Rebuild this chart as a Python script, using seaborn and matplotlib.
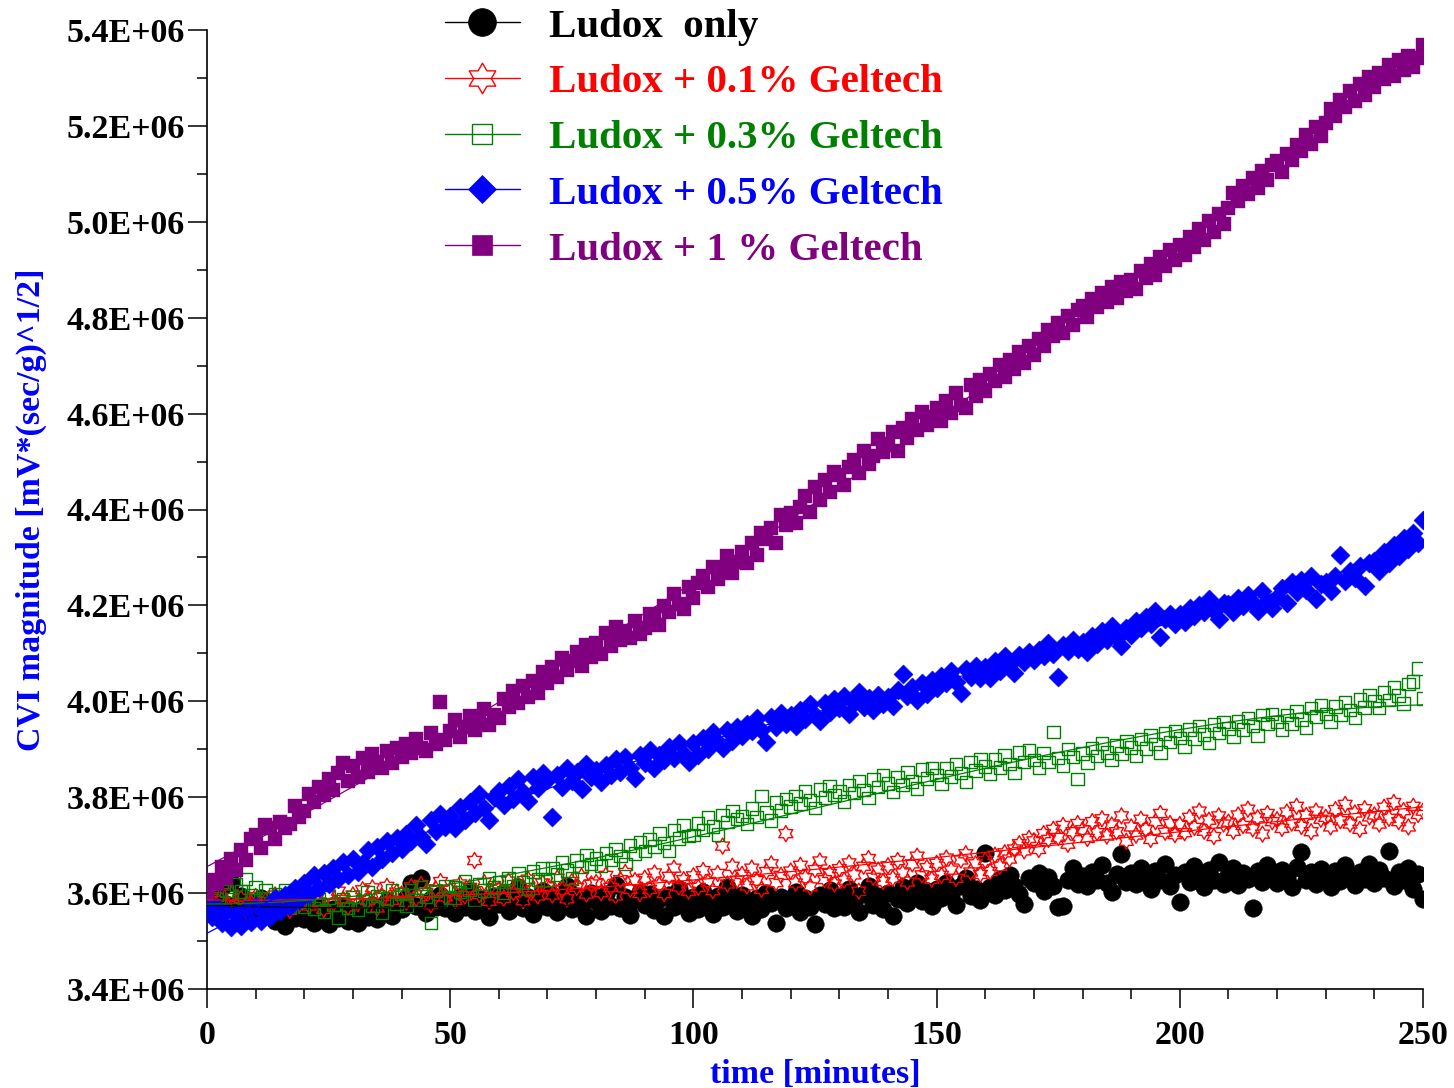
import numpy as np
import pandas as pd
import matplotlib
matplotlib.use("Agg")
import matplotlib.pyplot as plt
import seaborn as sns
from matplotlib.path import Path
from matplotlib.lines import Line2D
from matplotlib.ticker import MultipleLocator, FuncFormatter, FixedLocator

# ---------------- data (values in units of 1E+06) ----------------
ludox_only = [
    3.568, 3.587, 3.559, 3.612, 3.578, 3.624, 3.571, 3.593, 3.548, 3.582,
    3.566, 3.589, 3.552, 3.574, 3.541, 3.567, 3.532, 3.561, 3.548, 3.572,
    3.546, 3.563, 3.538, 3.571, 3.552, 3.535, 3.566, 3.549, 3.573, 3.541,
    3.558, 3.537, 3.569, 3.551, 3.576, 3.545, 3.562, 3.584, 3.553, 3.571,
    3.566, 3.589, 3.621, 3.574, 3.632, 3.559, 3.587, 3.571, 3.596, 3.568,
    3.583, 3.558, 3.592, 3.571, 3.604, 3.562, 3.589, 3.576, 3.551, 3.594,
    3.578, 3.601, 3.563, 3.587, 3.612, 3.569, 3.591, 3.557, 3.584, 3.605,
    3.572, 3.596, 3.561, 3.588, 3.614, 3.566, 3.593, 3.578, 3.552, 3.601,
    3.584, 3.562, 3.598, 3.573, 3.617, 3.569, 3.591, 3.555, 3.586, 3.603,
    3.576, 3.598, 3.564, 3.587, 3.553, 3.595, 3.572, 3.609, 3.581, 3.558,
    3.591, 3.567, 3.603, 3.578, 3.556, 3.594, 3.571, 3.612, 3.583, 3.562,
    3.596, 3.574, 3.552, 3.589, 3.566, 3.601, 3.579, 3.538, 3.591, 3.568,
    3.584, 3.603, 3.561, 3.589, 3.572, 3.536, 3.596, 3.578, 3.607, 3.569,
    3.592, 3.571, 3.608, 3.583, 3.561, 3.598, 3.614, 3.576, 3.593, 3.567,
    3.601, 3.552, 3.588, 3.612, 3.579, 3.596, 3.621, 3.584, 3.605, 3.573,
    3.608, 3.589, 3.622, 3.597, 3.576, 3.614, 3.631, 3.593, 3.609, 3.585,
    3.684, 3.612, 3.596, 3.629, 3.607, 3.637, 3.615, 3.598, 3.578, 3.631,
    3.622, 3.641, 3.605, 3.633, 3.614, 3.572, 3.574, 3.628, 3.652, 3.619,
    3.636, 3.614, 3.645, 3.627, 3.658, 3.621, 3.603, 3.639, 3.681, 3.624,
    3.641, 3.618, 3.653, 3.632, 3.608, 3.646, 3.627, 3.661, 3.615, 3.638,
    3.582, 3.643, 3.624, 3.657, 3.633, 3.612, 3.649, 3.628, 3.665, 3.619,
    3.637, 3.652, 3.616, 3.641, 3.629, 3.569, 3.646, 3.623, 3.658, 3.635,
    3.621, 3.648, 3.632, 3.612, 3.655, 3.686, 3.627, 3.643, 3.619, 3.651,
    3.634, 3.613, 3.647, 3.626, 3.659, 3.638, 3.617, 3.644, 3.629, 3.661,
    3.622, 3.648, 3.631, 3.688, 3.614, 3.645, 3.627, 3.653, 3.608, 3.639,
    3.588,
]
geltech_01 = [
    3.571, 3.592, 3.566, 3.585, 3.559, 3.598, 3.574, 3.589, 3.562, 3.581,
    3.593, 3.568, 3.584, 3.557, 3.596, 3.575, 3.588, 3.564, 3.599, 3.577,
    3.591, 3.573, 3.602, 3.581, 3.566, 3.598, 3.579, 3.604, 3.587, 3.571,
    3.596, 3.578, 3.607, 3.584, 3.611, 3.569, 3.593, 3.614, 3.585, 3.602,
    3.598, 3.581, 3.613, 3.589, 3.618, 3.601, 3.576, 3.609, 3.624, 3.592,
    3.606, 3.585, 3.619, 3.594, 3.612, 3.668, 3.597, 3.622, 3.583, 3.611,
    3.608, 3.589, 3.625, 3.601, 3.617, 3.584, 3.629, 3.606, 3.594, 3.621,
    3.613, 3.596, 3.631, 3.607, 3.588, 3.624, 3.612, 3.635, 3.598, 3.619,
    3.622, 3.601, 3.637, 3.612, 3.594, 3.628, 3.643, 3.608, 3.626, 3.599,
    3.631, 3.608, 3.642, 3.617, 3.599, 3.635, 3.652, 3.613, 3.628, 3.604,
    3.636, 3.612, 3.647, 3.623, 3.605, 3.641, 3.698, 3.619, 3.656, 3.627,
    3.639, 3.615, 3.652, 3.626, 3.608, 3.645, 3.661, 3.622, 3.637, 3.724,
    3.646, 3.621, 3.658, 3.632, 3.613, 3.649, 3.667, 3.628, 3.641, 3.619,
    3.651, 3.627, 3.663, 3.638, 3.604, 3.656, 3.672, 3.633, 3.648, 3.624,
    3.657, 3.631, 3.668, 3.642, 3.623, 3.661, 3.677, 3.638, 3.653, 3.629,
    3.662, 3.637, 3.673, 3.648, 3.631, 3.669, 3.682, 3.644, 3.661, 3.639,
    3.668, 3.645, 3.679, 3.656, 3.684, 3.671, 3.692, 3.703, 3.688, 3.714,
    3.709, 3.691, 3.724, 3.712, 3.733, 3.716, 3.741, 3.702, 3.728, 3.745,
    3.732, 3.714, 3.749, 3.726, 3.755, 3.719, 3.742, 3.728, 3.761, 3.708,
    3.738, 3.721, 3.754, 3.733, 3.712, 3.749, 3.766, 3.727, 3.745, 3.722,
    3.743, 3.726, 3.758, 3.737, 3.771, 3.729, 3.752, 3.718, 3.761, 3.744,
    3.748, 3.729, 3.763, 3.741, 3.775, 3.734, 3.757, 3.723, 3.766, 3.749,
    3.753, 3.735, 3.769, 3.746, 3.781, 3.739, 3.762, 3.728, 3.771, 3.754,
    3.758, 3.738, 3.774, 3.751, 3.785, 3.744, 3.767, 3.733, 3.776, 3.759,
    3.763, 3.744, 3.779, 3.756, 3.789, 3.749, 3.772, 3.738, 3.781, 3.764,
    3.771,
]
geltech_03 = [
    3.582, 3.611, 3.596, 3.624, 3.604, 3.587, 3.618, 3.603, 3.629, 3.595,
    3.612, 3.589, 3.605, 3.578, 3.598, 3.583, 3.607, 3.572, 3.594, 3.581,
    3.571, 3.596, 3.568, 3.588, 3.562, 3.591, 3.576, 3.549, 3.587, 3.569,
    3.592, 3.566, 3.584, 3.601, 3.573, 3.594, 3.558, 3.589, 3.605, 3.577,
    3.598, 3.574, 3.607, 3.586, 3.612, 3.593, 3.538, 3.604, 3.583, 3.615,
    3.591, 3.613, 3.602, 3.624, 3.607, 3.586, 3.619, 3.605, 3.631, 3.612,
    3.623, 3.601, 3.632, 3.615, 3.641, 3.622, 3.609, 3.645, 3.628, 3.651,
    3.628, 3.652, 3.639, 3.664, 3.647, 3.631, 3.668, 3.654, 3.679, 3.661,
    3.672, 3.656, 3.684, 3.669, 3.691, 3.677, 3.661, 3.699, 3.683, 3.706,
    3.688, 3.712, 3.697, 3.724, 3.705, 3.688, 3.731, 3.714, 3.742, 3.719,
    3.721, 3.745, 3.732, 3.758, 3.739, 3.722, 3.763, 3.748, 3.771, 3.754,
    3.761, 3.744, 3.776, 3.759, 3.802, 3.768, 3.751, 3.789, 3.772, 3.796,
    3.781, 3.803, 3.787, 3.812, 3.794, 3.778, 3.816, 3.799, 3.823, 3.805,
    3.812, 3.791, 3.826, 3.809, 3.834, 3.815, 3.798, 3.837, 3.821, 3.846,
    3.829, 3.811, 3.842, 3.826, 3.852, 3.833, 3.818, 3.858, 3.839, 3.861,
    3.846, 3.827, 3.861, 3.843, 3.869, 3.851, 3.832, 3.874, 3.856, 3.879,
    3.864, 3.848, 3.879, 3.862, 3.887, 3.869, 3.851, 3.893, 3.874, 3.899,
    3.878, 3.861, 3.892, 3.874, 3.936, 3.882, 3.866, 3.901, 3.884, 3.838,
    3.891, 3.872, 3.903, 3.886, 3.912, 3.893, 3.877, 3.908, 3.891, 3.916,
    3.904, 3.886, 3.921, 3.902, 3.929, 3.911, 3.893, 3.933, 3.915, 3.938,
    3.924, 3.906, 3.941, 3.922, 3.948, 3.931, 3.913, 3.952, 3.934, 3.957,
    3.943, 3.927, 3.958, 3.941, 3.965, 3.948, 3.929, 3.971, 3.953, 3.974,
    3.957, 3.941, 3.972, 3.954, 3.979, 3.962, 3.945, 3.986, 3.968, 3.991,
    3.974, 3.958, 3.989, 3.971, 3.998, 3.982, 3.965, 4.004, 3.987, 4.013,
    4.001, 3.986, 4.018, 4.003, 4.029, 4.012, 3.995, 4.036, 4.041, 4.068,
    4.006,
]
geltech_05 = [
    3.580, 3.551, 3.572, 3.538, 3.561, 3.529, 3.557, 3.531, 3.566, 3.540,
    3.574, 3.542, 3.568, 3.551, 3.589, 3.562, 3.597, 3.574, 3.611, 3.586,
    3.622, 3.598, 3.637, 3.610, 3.641, 3.618, 3.652, 3.629, 3.664, 3.638,
    3.671, 3.643, 3.662, 3.689, 3.655, 3.697, 3.672, 3.708, 3.683, 3.715,
    3.692, 3.724, 3.708, 3.741, 3.716, 3.702, 3.752, 3.729, 3.764, 3.738,
    3.761, 3.736, 3.779, 3.752, 3.791, 3.768, 3.806, 3.778, 3.752, 3.801,
    3.812, 3.784, 3.824, 3.797, 3.838, 3.811, 3.792, 3.843, 3.819, 3.851,
    3.836, 3.758, 3.847, 3.822, 3.861, 3.834, 3.852, 3.818, 3.869, 3.842,
    3.857, 3.831, 3.868, 3.846, 3.879, 3.852, 3.884, 3.861, 3.839, 3.887,
    3.872, 3.898, 3.861, 3.889, 3.877, 3.905, 3.882, 3.913, 3.891, 3.874,
    3.912, 3.889, 3.924, 3.901, 3.936, 3.915, 3.902, 3.941, 3.918, 3.947,
    3.927, 3.952, 3.938, 3.965, 3.941, 3.916, 3.968, 3.947, 3.975, 3.953,
    3.971, 3.949, 3.982, 3.963, 3.994, 3.972, 3.958, 3.996, 3.977, 4.004,
    3.986, 4.011, 3.973, 3.997, 4.019, 3.988, 4.006, 3.982, 4.014, 3.995,
    4.008, 3.991, 4.023, 4.057, 4.012, 4.029, 4.003, 4.038, 4.016, 4.044,
    4.027, 4.052, 4.039, 4.063, 4.041, 4.018, 4.067, 4.051, 4.074, 4.048,
    4.072, 4.049, 4.085, 4.063, 4.094, 4.077, 4.058, 4.096, 4.081, 4.103,
    4.086, 4.108, 4.095, 4.121, 4.099, 4.051, 4.117, 4.104, 4.128, 4.110,
    4.124, 4.102, 4.137, 4.119, 4.146, 4.128, 4.158, 4.133, 4.115, 4.152,
    4.139, 4.168, 4.152, 4.176, 4.161, 4.188, 4.134, 4.171, 4.183, 4.162,
    4.182, 4.165, 4.194, 4.178, 4.201, 4.186, 4.214, 4.189, 4.171, 4.205,
    4.203, 4.187, 4.215, 4.198, 4.221, 4.206, 4.189, 4.230, 4.210, 4.195,
    4.218, 4.236, 4.204, 4.249, 4.227, 4.252, 4.233, 4.261, 4.214, 4.245,
    4.248, 4.229, 4.262, 4.306, 4.251, 4.272, 4.257, 4.283, 4.241, 4.289,
    4.293, 4.271, 4.312, 4.288, 4.326, 4.304, 4.341, 4.317, 4.352, 4.331,
    4.378,
]
geltech_1 = [
    3.600, 3.628, 3.618, 3.655, 3.632, 3.671, 3.648, 3.690, 3.668, 3.712,
    3.722, 3.695, 3.741, 3.736, 3.712, 3.748, 3.735, 3.744, 3.781, 3.758,
    3.772, 3.806, 3.791, 3.822, 3.804, 3.838, 3.815, 3.850, 3.872, 3.833,
    3.866, 3.842, 3.881, 3.852, 3.890, 3.873, 3.861, 3.897, 3.872, 3.903,
    3.884, 3.910, 3.893, 3.921, 3.902, 3.896, 3.934, 3.911, 3.998, 3.919,
    3.938, 3.962, 3.925, 3.947, 3.970, 3.941, 3.958, 3.983, 3.950, 3.972,
    3.965, 4.004, 3.988, 4.021, 3.996, 4.032, 4.010, 4.043, 4.018, 4.061,
    4.038, 4.072, 4.051, 4.090, 4.066, 4.085, 4.102, 4.073, 4.118, 4.092,
    4.121, 4.098, 4.142, 4.115, 4.155, 4.128, 4.147, 4.132, 4.168, 4.141,
    4.152, 4.183, 4.171, 4.160, 4.198, 4.186, 4.224, 4.203, 4.192, 4.238,
    4.215, 4.247, 4.262, 4.238, 4.281, 4.256, 4.274, 4.302, 4.268, 4.291,
    4.312, 4.288, 4.331, 4.305, 4.352, 4.339, 4.362, 4.331, 4.389, 4.367,
    4.392, 4.371, 4.405, 4.428, 4.394, 4.447, 4.419, 4.462, 4.436, 4.478,
    4.471, 4.452, 4.489, 4.503, 4.477, 4.521, 4.495, 4.512, 4.546, 4.519,
    4.537, 4.562, 4.523, 4.571, 4.549, 4.588, 4.565, 4.603, 4.576, 4.592,
    4.612, 4.584, 4.627, 4.601, 4.643, 4.618, 4.612, 4.659, 4.637, 4.671,
    4.648, 4.682, 4.667, 4.701, 4.676, 4.712, 4.694, 4.728, 4.705, 4.741,
    4.722, 4.756, 4.741, 4.775, 4.762, 4.789, 4.768, 4.803, 4.784, 4.817,
    4.824, 4.801, 4.838, 4.822, 4.851, 4.833, 4.864, 4.842, 4.874, 4.855,
    4.878, 4.859, 4.897, 4.883, 4.912, 4.890, 4.926, 4.908, 4.942, 4.921,
    4.952, 4.931, 4.968, 4.947, 4.984, 4.962, 5.002, 4.979, 5.017, 4.996,
    5.028, 5.061, 5.044, 5.075, 5.058, 5.092, 5.071, 5.105, 5.087, 5.118,
    5.126, 5.104, 5.142, 5.128, 5.161, 5.147, 5.182, 5.163, 5.197, 5.178,
    5.207, 5.236, 5.221, 5.253, 5.240, 5.272, 5.251, 5.287, 5.265, 5.301,
    5.282, 5.311, 5.298, 5.326, 5.305, 5.338, 5.317, 5.345, 5.322, 5.341,
    5.368,
]

series_labels = ["Ludox  only", "Ludox + 0.1% Geltech", "Ludox + 0.3% Geltech",
                 "Ludox + 0.5% Geltech", "Ludox + 1 % Geltech"]
series_colors = ["#000000", "#ff0000", "#008000", "#0000ff", "#800080"]
x_ticks = [0, 50, 100, 150, 200, 250]
y_ticks = [3.4e6, 3.6e6, 3.8e6, 4.0e6, 4.2e6, 4.4e6, 4.6e6, 4.8e6, 5.0e6, 5.2e6, 5.4e6]

# ---------------- style ----------------
sns.set_theme(style="ticks")
plt.rcParams["font.family"] = ["Liberation Serif", "DejaVu Serif"]
plt.rcParams["font.weight"] = "bold"
plt.rcParams["axes.labelweight"] = "bold"

W, H = 1454, 1088
fig = plt.figure(figsize=(W / 100, H / 100), dpi=100)
fig.patch.set_facecolor("white")
ax = fig.add_axes([207 / W, 1 - 989 / H, (1423 - 207) / W, (989 - 30) / H])
ax.set_facecolor("white")

hexagram = Path.unit_regular_star(6, innerCircle=0.577)

# marker specs: (marker, size s, filled)
specs = [
    ("o", 160, True),
    (hexagram, 135, False),
    ("s", 80, False),
    ("D", 95, True),
    ("s", 88, True),
]

all_series = [ludox_only, geltech_01, geltech_03, geltech_05, geltech_1]
for vals, label, col, (mk, s, filled) in zip(all_series, series_labels, series_colors, specs):
    v = np.asarray(vals) * 1e6
    t = np.arange(len(v))  # one reading per minute
    df = pd.DataFrame({"time": t, "value": v})
    if filled:
        sns.scatterplot(data=df, x="time", y="value", marker=mk, s=s, color=col,
                        edgecolor=col, linewidth=0.3, ax=ax, zorder=3, legend=False)
    else:
        sns.scatterplot(data=df, x="time", y="value", marker=mk, s=s,
                        facecolor="none", edgecolor=col, linewidth=1.0, ax=ax,
                        zorder=3, legend=False)
    coef = np.polyfit(t, v, 3)
    df["fit"] = np.polyval(coef, t)
    sns.lineplot(data=df, x="time", y="fit", color=col, linewidth=0.9, ax=ax,
                 zorder=4, legend=False)

# ---------------- axes ----------------
ax.set_xlim(0, 250)
ax.set_ylim(3.4e6, 5.4e6)
ax.xaxis.set_major_locator(FixedLocator(x_ticks))
ax.xaxis.set_minor_locator(MultipleLocator(10))
ax.yaxis.set_major_locator(FixedLocator(y_ticks))
ax.yaxis.set_minor_locator(MultipleLocator(1e5))
ax.yaxis.set_major_formatter(FuncFormatter(lambda v, p: f"{v:.1E}"))
ax.xaxis.set_major_formatter(FuncFormatter(lambda v, p: f"{v:.0f}"))

for side in ["top", "right"]:
    ax.spines[side].set_visible(False)
for side in ["left", "bottom"]:
    ax.spines[side].set_color("black")
    ax.spines[side].set_linewidth(1.2)

ax.tick_params(axis="both", which="major", direction="out", length=14, width=1.1,
               color="black", labelsize=24.5, labelcolor="black")
ax.tick_params(axis="both", which="minor", direction="out", length=7, width=1.1,
               color="black")
ax.tick_params(axis="y", which="major", pad=2)
ax.tick_params(axis="x", which="major", pad=8)
for lbl in ax.get_xticklabels() + ax.get_yticklabels():
    lbl.set_fontweight("bold")

ax.set_xlabel("time [minutes]", color="#0000ff", fontsize=24.5, fontweight="bold",
              labelpad=6)
ax.set_ylabel("CVI magnitude [mV*(sec/g)^1/2]", color="#0000ff", fontsize=24.5,
              fontweight="bold", labelpad=14)
ax.grid(False)

# ---------------- legend ----------------
leg_specs = [
    ("o", 20, True),
    (hexagram, 22, False),
    ("s", 15, False),
    ("D", 14, True),
    ("s", 15, True),
]
handles = []
for col, (mk, ms, filled) in zip(series_colors, leg_specs):
    handles.append(Line2D([0, 1], [0, 0], color=col, lw=1.0, marker=mk, markersize=ms,
                          markerfacecolor=col if filled else "none",
                          markeredgecolor=col, markeredgewidth=1.0 if not filled else 0.5))
leg = fig.legend(handles, series_labels, loc="upper left",
                 bbox_to_anchor=(445 / W, 1 - 8 / H), frameon=False, fontsize=29.5,
                 handlelength=1.83, handletextpad=0.7, labelspacing=0.44,
                 borderpad=0, borderaxespad=0, labelcolor=series_colors)
for txt in leg.get_texts():
    txt.set_fontweight("bold")

fig.savefig("out.png", dpi=100, facecolor="white")
